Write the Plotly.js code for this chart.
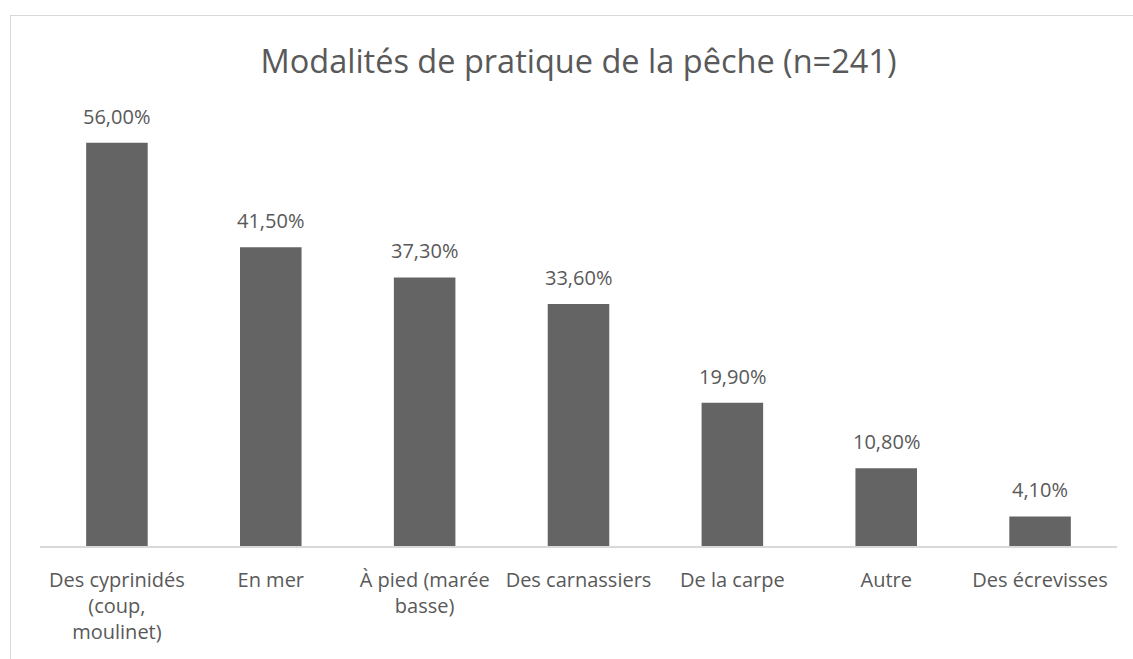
<!DOCTYPE html>
<html>
<head>
<meta charset="utf-8">
<script src="https://cdn.plot.ly/plotly-3.0.1.min.js"></script>
<style>
  html, body { margin: 0; padding: 0; overflow: hidden; background: #ffffff; }
  #frame { position: absolute; left: 10px; top: 15px; width: 1200px; height: 800px;
           border: 1.5px solid #d9d9d9; box-sizing: border-box; }
  #chart { position: absolute; left: 0; top: 0; width: 1133px; height: 659px; }
</style>
</head>
<body>
<div id="frame"></div>
<div id="chart"></div>
<script>
const categories = [
  "Des cyprinidés<br>(coup,<br>moulinet)",
  "En mer",
  "À pied (marée<br>basse)",
  "Des carnassiers",
  "De la carpe",
  "Autre",
  "Des écrevisses"
];
const values = [56.0, 41.5, 37.3, 33.6, 19.9, 10.8, 4.1];
const chartTitle = "Modalités de pratique de la pêche (n=241)";

const textColor = "#595959";
const fontFamily = "'Open Sans', 'Noto Sans', sans-serif";

const trace = {
  type: "bar",
  x: categories,
  y: values,
  marker: { color: "#646464" },
  hoverinfo: "x+y"
};

const annotations = categories.map((c, i) => ({
  x: c,
  y: values[i],
  xref: "x",
  yref: "y",
  text: values[i].toFixed(2).replace(".", ",") + "%",
  showarrow: false,
  yanchor: "bottom",
  yshift: 11,
  font: { family: fontFamily, size: 20, color: textColor }
}));

const layout = {
  width: 1133,
  height: 659,
  paper_bgcolor: "rgba(0,0,0,0)",
  plot_bgcolor: "rgba(0,0,0,0)",
  margin: { l: 40, r: 16, t: 114, b: 113 },
  separators: ", ",
  bargap: 0.6,
  showlegend: false,
  font: { family: fontFamily, size: 20, color: textColor },
  title: {
    text: chartTitle,
    font: { family: fontFamily, size: 32.5, color: textColor },
    x: 0.5,
    xref: "paper",
    y: 1 - 62 / 659,
    yref: "container",
    yanchor: "middle"
  },
  xaxis: {
    type: "category",
    showline: true,
    linecolor: "#d9d9d9",
    linewidth: 1.5,
    ticks: "",
    showgrid: false,
    zeroline: false,
    tickfont: { family: fontFamily, size: 20, color: textColor },
    ticklabelstandoff: 15,
    fixedrange: true
  },
  yaxis: {
    range: [0, 60],
    visible: false,
    showgrid: false,
    zeroline: false,
    fixedrange: true
  },
  annotations: annotations
};

Plotly.newPlot("chart", [trace], layout, { displayModeBar: false, staticPlot: true });
</script>
</body>
</html>
